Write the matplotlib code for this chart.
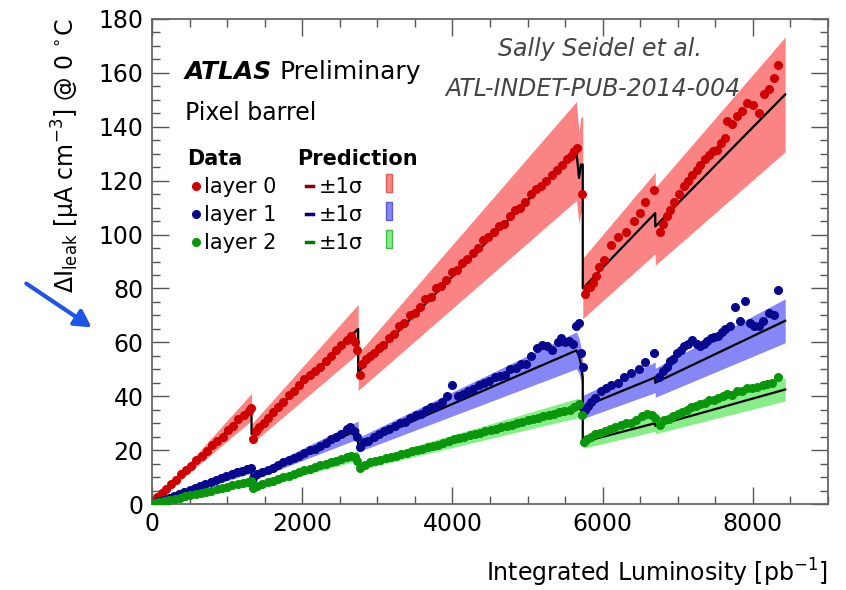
import matplotlib
matplotlib.use("Agg")
import matplotlib.pyplot as plt
from matplotlib.patches import Rectangle

# ---- prediction (piecewise, drops at annealing periods) ----
pred_x = [0, 1325, 1325, 2745, 2745, 5650, 5685, 5710, 5735, 5735, 6700, 6700, 8430]
pred_l0 = [0, 36, 26, 65, 49, 131, 121, 126, 126, 80, 108, 103, 152]
pred_l1 = [0, 13, 10, 27.5, 22, 57, 55, 52, 47, 36, 47, 45, 68]
pred_l2 = [0, 8.5, 6, 18, 14, 35.5, 35.5, 35, 33, 23, 30, 29, 42.5]
band_frac = {"l0": 0.14, "l1": 0.12, "l2": 0.10}

# ---- data points ----
l0_x = [20, 70, 130, 190, 250, 320, 390, 450, 520, 590, 660, 730, 800, 870, 940, 1010, 1080, 1150, 1220, 1290, 1320,
        1340, 1380, 1430, 1490, 1550, 1610, 1680, 1750, 1820, 1890, 1960, 2030, 2100, 2170, 2240, 2310, 2380, 2450,
        2520, 2590, 2650, 2700, 2730,
        2770, 2800, 2850, 2900, 2960, 3020, 3080, 3150, 3220, 3290, 3360, 3430, 3500, 3570, 3640, 3710, 3780, 3850,
        3920, 3990, 4060, 4130, 4200, 4270, 4340, 4410, 4480, 4550, 4620, 4690, 4760, 4830, 4900, 4970, 5040, 5110,
        5180, 5250, 5320, 5390, 5460, 5530, 5580, 5620, 5660, 5730,
        5760, 5790, 5830, 5870, 5910, 5950, 6020, 6110, 6200, 6310, 6420, 6500, 6570, 6680,
        6760, 6800, 6850, 6900, 6950, 7020, 7080, 7140, 7190, 7250, 7300, 7360, 7410, 7470, 7520, 7580, 7630, 7660,
        7720, 7790, 7860, 7920, 8000, 8080, 8150, 8210, 8280, 8340]
l0_y = [0.8, 2.5, 4.0, 5.5, 7.5, 9, 11, 12.5, 14, 16.5, 18, 19.5, 22, 23.5, 25, 27.5, 29, 31.5, 33, 34.5, 35.5,
        24, 27, 28.5, 30, 32, 34, 36, 38, 40.5, 42, 44, 46.5, 48, 49.5, 51, 53, 55, 57,
        59, 61, 62.5, 60, 57,
        48, 52, 54, 55, 56, 58, 59, 61.5, 63, 66, 67, 70, 71, 73, 76, 77, 80, 81,
        83, 86, 87, 89.5, 91, 93, 95, 98, 99, 101, 103, 104, 107, 109, 110, 112, 115, 117,
        118, 120, 122, 124, 126, 128, 129, 131, 132, 115,
        78, 80, 80.5, 82, 84.5, 88, 90.5, 96, 99, 101, 105, 108, 112, 116.5,
        101, 104, 107, 109, 112, 115, 118, 120, 122, 124, 126, 128, 129.5, 131, 131.5, 134, 136, 142,
        141, 144, 146, 149, 148, 145, 152, 154, 158, 163]

l1_x = [20, 80, 150, 220, 290, 360, 430, 500, 570, 640, 710, 780, 850, 920, 990, 1060, 1130, 1200, 1270, 1320,
        1340, 1400, 1470, 1540, 1610, 1680, 1750, 1820, 1890, 1960, 2030, 2100, 2170, 2240, 2310, 2380, 2450, 2520,
        2590, 2640, 2690, 2730,
        2770, 2820, 2880, 2950, 3020, 3090, 3160, 3230, 3300, 3370, 3440, 3510, 3580, 3650, 3720, 3790, 3860, 3930,
        4000, 4070, 4140, 4210, 4280, 4350, 4420, 4490, 4560, 4630, 4700, 4770, 4840, 4910, 4980, 5050, 5120, 5190,
        5260, 5330, 5400, 5450, 5500, 5550, 5600, 5640, 5680, 5710, 5740,
        5770, 5800, 5850, 5900, 5980, 6050, 6110, 6200, 6290, 6380, 6480, 6570, 6680,
        6750, 6800, 6850, 6890, 6940, 6990, 7040, 7080, 7140, 7190, 7250, 7300, 7350, 7390, 7440, 7480, 7540, 7590,
        7630, 7700, 7765, 7830, 7897, 7960, 8020, 8075, 8140, 8208, 8280, 8340]
l1_y = [0.3, 1, 1.6, 2.3, 3, 3.8, 4.5, 5.3, 6, 6.8, 7.5, 8.2, 9, 9.5, 10.3, 11, 11.8, 12.3, 13, 13.3,
        9.5, 11, 11.8, 12.5, 13.5, 14.5, 15.5, 16.5, 17, 18, 19, 20, 20.5, 21.5, 22.5, 24, 25, 26,
        28, 28.5, 27, 25,
        21, 23, 23.5, 25, 26, 27, 28, 29, 30, 30.5, 32, 33, 33.5, 35, 36, 36.5, 38, 40,
        44, 40, 41, 42, 42.5, 44, 45, 45.5, 47, 47.5, 48, 50, 50.5, 52, 52, 55, 58, 59,
        58.5, 57, 60, 61.5, 60, 60.5, 59.5, 66, 67, 56, 51,
        35, 36.5, 38, 39.5, 42, 43, 44, 45, 47, 48.5, 50, 52.7, 56,
        47, 49.5, 51, 53, 54, 56, 57, 58.5, 59.5, 61, 59.5, 58.5, 59.5, 60.5, 61.5, 62, 62.5, 64,
        65, 66, 73, 68, 75.5, 67, 66, 66, 68, 71, 70, 79.5]

l2_x = [20, 90, 160, 230, 300, 370, 440, 510, 580, 650, 720, 790, 860, 930, 1000, 1070, 1140, 1210, 1280, 1320,
        1340, 1400, 1470, 1540, 1610, 1680, 1750, 1820, 1890, 1960, 2030, 2100, 2170, 2240, 2310, 2380, 2450, 2520,
        2590, 2650, 2700, 2730,
        2770, 2830, 2900, 2970, 3040, 3110, 3180, 3250, 3320, 3390, 3460, 3530, 3600, 3670, 3740, 3810, 3880, 3950,
        4020, 4090, 4160, 4230, 4300, 4370, 4440, 4510, 4580, 4650, 4720, 4790, 4860, 4930, 5000, 5070, 5140, 5210,
        5280, 5350, 5420, 5490, 5560, 5620, 5680, 5720,
        5750, 5790, 5840, 5900, 5960, 6030, 6100, 6170, 6240, 6310, 6380, 6450, 6520, 6590, 6660, 6700,
        6760, 6820, 6880, 6940, 7000, 7060, 7120, 7180, 7240, 7300, 7360, 7420, 7480, 7540, 7600, 7660, 7720, 7790,
        7860, 7920, 7990, 8060, 8130, 8190, 8260, 8340]
l2_y = [0.2, 0.6, 1, 1.5, 2, 2.4, 2.8, 3.3, 3.7, 4.2, 4.6, 5, 5.5, 6, 6.4, 6.9, 7.3, 7.8, 8.3, 8.6,
        6, 6.8, 7.5, 8, 8.6, 9.3, 10, 10.5, 11, 11.8, 12.5, 13, 13.6, 14.3, 15, 15.5, 16, 16.8,
        17.3, 18, 17.5, 16,
        13.5, 14.5, 15.5, 16, 16.5, 17, 17.5, 18, 18.5, 19, 19.5, 20, 20.5, 21, 21.5, 22, 22.8, 23.3,
        24, 24.5, 25, 25.5, 26, 26.5, 27, 27.5, 28, 28.5, 29, 29.5, 30, 30.5, 31, 31.5, 32, 32.5,
        33, 33.5, 34, 34.5, 35, 36, 37, 33,
        23, 24, 25, 26, 26.5, 27, 27.8, 28.5, 29.5, 30, 30.2, 31, 32.5, 33.5, 33, 32,
        29.5, 31, 31.5, 32.5, 33.5, 34, 35, 36, 36.5, 37, 37.5, 38.5, 38.5, 39.5, 40, 41, 40.5, 42,
        42, 43, 43, 43.5, 44, 44.5, 45, 47]

layer_labels = ["layer 0", "layer 1", "layer 2"]
x_ticks = [0, 2000, 4000, 6000, 8000]
y_ticks = [0, 20, 40, 60, 80, 100, 120, 140, 160, 180]

marker_col = ["#d00000", "#08088e", "#0a960a"]
band_col = ["#fa8484", "#8686f6", "#86ee86"]
band_edge = ["#d86060", "#5c5cc8", "#4cb44c"]
dash_col = ["#8a0000", "#00007a", "#00780a"]

plt.rcParams["font.family"] = "DejaVu Sans"
plt.rcParams["mathtext.default"] = "regular"
fig = plt.figure(figsize=(8.46, 5.90), dpi=100)
ax = fig.add_axes([152 / 846, 1 - 504 / 590, 676 / 846, 485 / 590])

preds = [pred_l0, pred_l1, pred_l2]
fracs = [band_frac["l0"], band_frac["l1"], band_frac["l2"]]
data = [(l0_x, l0_y), (l1_x, l1_y), (l2_x, l2_y)]

for i in range(3):
    lo = [v * (1 - fracs[i]) for v in preds[i]]
    hi = [v * (1 + fracs[i]) for v in preds[i]]
    ax.fill_between(pred_x, lo, hi, color=band_col[i], lw=0, zorder=1)
for i in range(3):
    ax.plot(pred_x, preds[i], color="black", lw=1.6, zorder=2)
for i in range(3):
    dx, dy = data[i]
    ax.errorbar(dx, dy, yerr=1.2, fmt="o", ms=5.5, color=marker_col[i], ecolor=marker_col[i],
                elinewidth=1, capsize=0, zorder=3)

ax.set_xlim(0, 9000)
ax.set_ylim(0, 180)
ax.set_xticks(x_ticks)
ax.set_yticks(y_ticks)
ax.set_xticks(range(0, 9001, 500), minor=True)
ax.set_yticks(range(0, 181, 5), minor=True)
ax.tick_params(which="both", direction="in", top=True, right=True, width=1, color="#555555",
               labelsize=17, pad=6)
ax.tick_params(which="major", length=12)
ax.tick_params(which="minor", length=6)
for s in ax.spines.values():
    s.set_color("#666666")
    s.set_linewidth(1.3)

ax.set_xlabel("Integrated Luminosity [pb$^{-1}$]", fontsize=17, loc="right")
ax.xaxis.set_label_coords(1.0, -0.108)
ax.set_ylabel("ΔI$_{leak}$ [μA cm$^{-3}$] @ 0 $^{\\circ}$C", fontsize=17, loc="top")
ax.yaxis.set_label_coords(-0.103, 1.0)

def ax_pt(px, py):
    return (px - 152) / 676, (504 - py) / 485

# header texts
x0, y0 = ax_pt(185, 79)
ax.text(x0, y0, "ATLAS", transform=ax.transAxes, fontsize=18, fontweight="bold", fontstyle="italic")
x1, _ = ax_pt(279, 79)
ax.text(x1, y0, "Preliminary", transform=ax.transAxes, fontsize=18)
x0, y0 = ax_pt(185, 120)
ax.text(x0, y0, "Pixel barrel", transform=ax.transAxes, fontsize=17)
x0, y0 = ax_pt(600, 56)
ax.text(x0, y0, "Sally Seidel et al.", transform=ax.transAxes, fontsize=17, fontstyle="italic",
        color="#444444", ha="center")
x0, y0 = ax_pt(593, 96)
ax.text(x0, y0, "ATL-INDET-PUB-2014-004", transform=ax.transAxes, fontsize=17, fontstyle="italic",
        color="#444444", ha="center")

# custom legend
x0, y0 = ax_pt(187, 165)
ax.text(x0, y0, "Data", transform=ax.transAxes, fontsize=15, fontweight="bold")
x0, _ = ax_pt(297, 165)
ax.text(x0, y0, "Prediction", transform=ax.transAxes, fontsize=15, fontweight="bold")
row_base = [193, 221, 249]
for i in range(3):
    mx, my = ax_pt(196, row_base[i] - 7)
    ax.plot([mx], [my], "o", ms=5.5, color=marker_col[i], transform=ax.transAxes, clip_on=False)
    tx, ty = ax_pt(204, row_base[i])
    ax.text(tx, ty, layer_labels[i], transform=ax.transAxes, fontsize=15)
    d0, _ = ax_pt(306, 0)
    d1, _ = ax_pt(313, 0)
    ax.plot([d0, d1], [my, my], color=dash_col[i], lw=2.5, transform=ax.transAxes, clip_on=False)
    sx, _ = ax_pt(319, 0)
    ax.text(sx, ty, "±1σ", transform=ax.transAxes, fontsize=15)
    bx, by = ax_pt(386, row_base[i] - 1)
    ax.add_patch(Rectangle((bx, by), 6 / 676, 18 / 485, transform=ax.transAxes, facecolor=band_col[i],
                           edgecolor=band_edge[i], lw=1, clip_on=False))

# blue pointer arrow
ax.annotate("", xy=(94, 590 - 329), xytext=(24, 590 - 282), xycoords="figure pixels",
            textcoords="figure pixels",
            arrowprops=dict(arrowstyle="-|>,head_length=1.0,head_width=0.55", color="#1f55e6", lw=3))

fig.savefig("out.png", dpi=100)
